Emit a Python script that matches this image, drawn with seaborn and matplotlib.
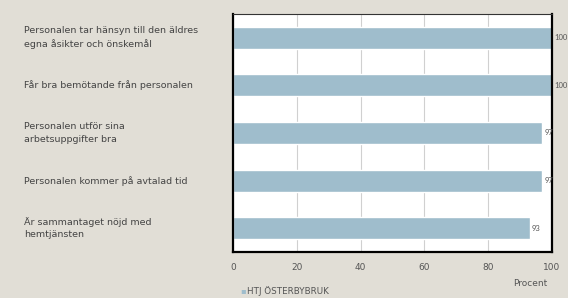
import matplotlib
matplotlib.use("Agg")
import matplotlib.pyplot as plt
import seaborn as sns
import pandas as pd

categories = [
    "Personalen tar hänsyn till den äldres\negna åsikter och önskemål",
    "Får bra bemötande från personalen",
    "Personalen utför sina\narbetsuppgifter bra",
    "Personalen kommer på avtalad tid",
    "Är sammantaget nöjd med\nhemtjänsten",
]
values = [100, 100, 97, 97, 93]
series_name = "HTJ ÖSTERBYBRUK"
xticks = [0, 20, 40, 60, 80, 100]

sns.set_theme(style="white")
plt.rcParams['font.family'] = ['DejaVu Sans']

df = pd.DataFrame({"kategori": categories, "procent": values})

W, H = 568, 298
fig = plt.figure(figsize=(W / 100, H / 100), dpi=100)
bg = "#e1ded6"
fig.patch.set_facecolor(bg)
ax = fig.add_axes([233 / W, 1 - 252 / H, 319 / W, 238 / H])
ax.set_facecolor("white")

bar_color = "#9fbdcc"
sns.barplot(data=df, y="kategori", x="procent", orient="h", color=bar_color,
            width=0.46, ax=ax, saturation=1)

ax.set_xlim(0, 100)
ax.set_xticks(xticks)
ax.set_xticklabels([str(t) for t in xticks], fontsize=6.5, color="#555555")
ax.tick_params(axis="x", length=0, pad=8)
ax.set_yticks([])
ax.set_ylabel("")
ax.set_xlabel("")
ax.xaxis.grid(True, color="#d0d0d0", linewidth=0.8)
ax.set_axisbelow(True)

for s in ["left", "bottom", "right"]:
    ax.spines[s].set_visible(True)
    ax.spines[s].set_color("black")
    ax.spines[s].set_linewidth(1.6)
ax.spines["top"].set_visible(True)
ax.spines["top"].set_color("#333333")
ax.spines["top"].set_linewidth(0.8)

# category labels left aligned
for i, c in enumerate(categories):
    ax.text(-0.655, i, c, transform=ax.get_yaxis_transform(), ha="left", va="center",
            fontsize=6.8, color="#444444", linespacing=1.5)

# value labels
for i, v in enumerate(values):
    ax.text(v + 0.6, i, str(v), ha="left", va="center", fontsize=5.5, color="#555555",
            family="Lato", clip_on=False)

fig.text(530 / W, 1 - 284 / H, "Procent", ha="center", va="center", fontsize=6.5, color="#555555")
fig.text(240 / W, 1 - 291 / H, "▪", ha="left", va="center", fontsize=6, color=bar_color)
fig.text(247 / W, 1 - 291 / H, series_name, ha="left", va="center", fontsize=6.3, color="#555555")

fig.savefig("out.png", dpi=100, facecolor=bg)
